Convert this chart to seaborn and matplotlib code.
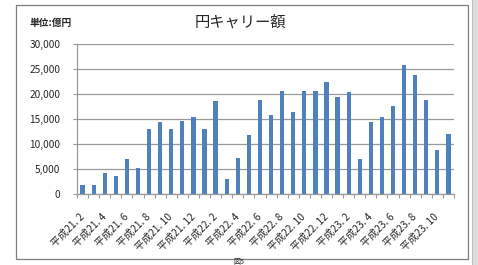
import matplotlib
matplotlib.use("Agg")
import matplotlib.pyplot as plt
import matplotlib.transforms as mtransforms
import seaborn as sns
import pandas as pd
from matplotlib.patches import Rectangle
from matplotlib.ticker import FuncFormatter, FixedLocator

sns.set_style("white")
plt.rcParams['font.family'] = ['Noto Sans CJK JP', 'DejaVu Sans']

# ---- data ----
months = (["平成21. %d" % m for m in range(2, 13)]
          + ["平成22. %d" % m for m in range(1, 13)]
          + ["平成23. %d" % m for m in range(1, 12)])
values = [1900, 1900, 4200, 3550, 7100, 5300, 12950, 14450, 12950, 14600,
          15450, 12950, 18700, 3050, 7250, 11750, 18900, 15850, 20650, 16450,
          20650, 20650, 22400, 19350, 20350, 7050, 14350, 15450, 17650, 25900,
          23750, 18900, 8800, 11950]
yticks = [0, 5000, 10000, 15000, 20000, 25000, 30000]
title = "円キャリー額"
unit_label = "単位:億円"
fig_label = "図5"

W, H = 478, 265
fig = plt.figure(figsize=(W / 100, H / 100), dpi=100)
fig.patch.set_facecolor("white")

# outer frame and right grey strip
fig.patches.append(Rectangle((16 / W, 1 - 259 / H), (468 - 16) / W, (259 - 5) / H,
                             transform=fig.transFigure, fill=False,
                             edgecolor="#7f7f7f", linewidth=0.9))
fig.patches.append(Rectangle((472 / W, 0), 6 / W, 1, transform=fig.transFigure,
                             facecolor="#dcdcdc", edgecolor="none"))
fig.patches.append(Rectangle((472 / W, 0), 0.8 / W, 1, transform=fig.transFigure,
                             facecolor="#bdbdbd", edgecolor="none"))

ax = fig.add_axes([77 / W, 1 - 194 / H, (454 - 77) / W, (194 - 44) / H])

df = pd.DataFrame({"month": months, "value": values})
sns.barplot(data=df, x="month", y="value", color="#4F81BD", saturation=1,
            width=0.38, ax=ax, edgecolor="none")

ax.set_xlim(-0.5, len(months) - 0.5)
ax.set_ylim(0, 30000)
ax.set_yticks(yticks)
ax.yaxis.set_major_formatter(FuncFormatter(lambda v, p: f"{int(v):,}"))
ax.grid(axis="y", color="#9a9a9a", linewidth=0.9)
ax.set_axisbelow(True)

idx = list(range(0, len(months), 2))
ax.set_xticks(idx)
ax.set_xticklabels([months[i] for i in idx], rotation=45, ha="right",
                   va="center", rotation_mode="anchor", fontsize=7.3)
shift = mtransforms.ScaledTranslation(-5 / 100, 0, fig.dpi_scale_trans)
for lab in ax.get_xticklabels():
    lab.set_transform(lab.get_transform() + shift)
ax.xaxis.set_minor_locator(FixedLocator([i - 0.5 for i in range(len(months) + 1)]))
ax.tick_params(axis="x", which="major", length=0, pad=15)
ax.tick_params(axis="x", which="minor", length=3, color="#9a9a9a", width=0.8,
               direction="out", bottom=True)
ax.tick_params(axis="y", length=3, color="#9a9a9a", width=0.8, labelsize=7.3,
               left=True, pad=9)

for s in ["top", "right"]:
    ax.spines[s].set_visible(False)
for s in ["left", "bottom"]:
    ax.spines[s].set_color("#9a9a9a")
    ax.spines[s].set_linewidth(0.9)

ax.set_xlabel("")
ax.set_ylabel("")

fig.text(240 / W, 1 - 22 / H, title, ha="center", va="center", fontsize=11)
fig.text(30 / W, 1 - 23 / H, unit_label, ha="left", va="center", fontsize=7,
         fontweight="bold")
fig.text(233 / W, 1 - 262 / H, fig_label, ha="left", va="center", fontsize=5)

fig.savefig("out.png", dpi=100)
